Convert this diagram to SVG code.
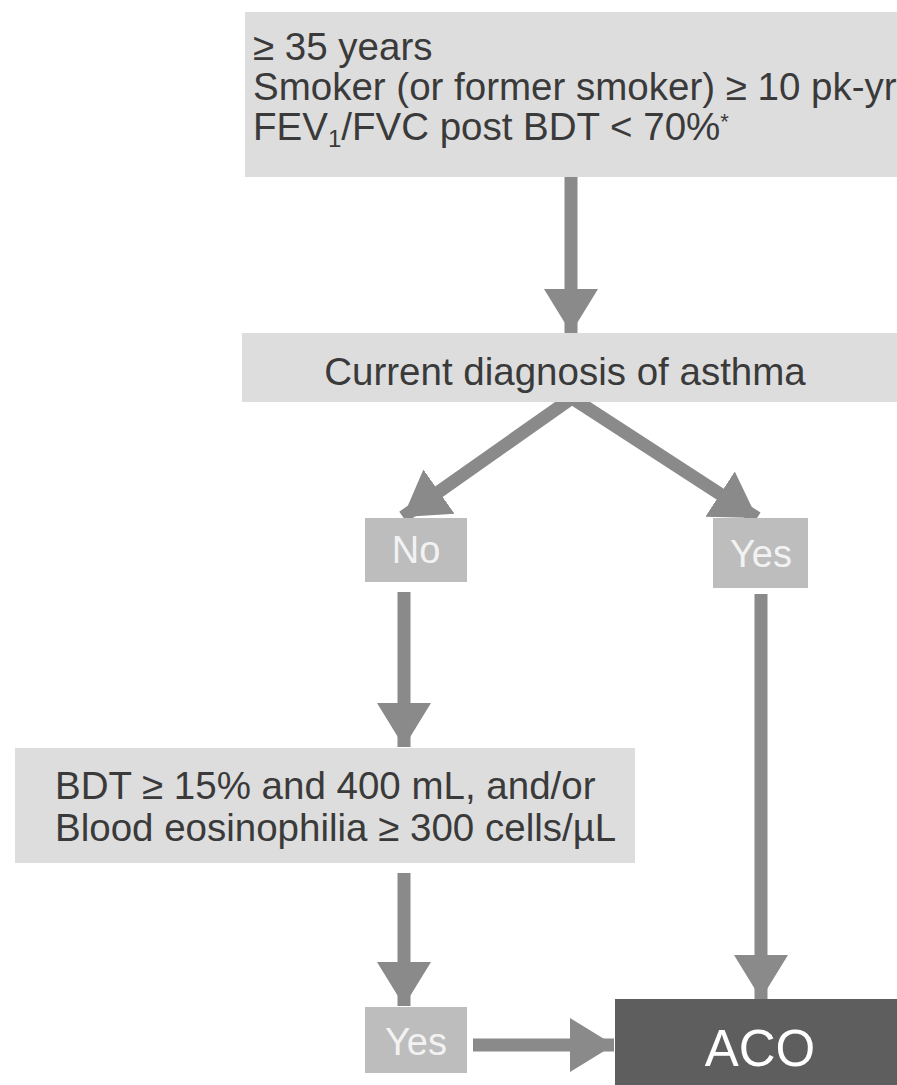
<svg xmlns="http://www.w3.org/2000/svg" width="897" height="1085" viewBox="0 0 897 1085">
  <defs>
    <style>
      .box { fill: #dddddd; }
      .tag { fill: #bdbdbd; }
      .result { fill: #5e5e5e; }
      .txt { font-family: "Liberation Sans", Arial, Helvetica, sans-serif; font-size: 38.5px; fill: #3a3a3a; }
      .tagtxt { font-family: "Liberation Sans", Arial, Helvetica, sans-serif; font-size: 38px; fill: #f2f2f2; text-anchor: middle; }
      .restxt { font-family: "Liberation Sans", Arial, Helvetica, sans-serif; font-size: 51px; fill: #ffffff; text-anchor: middle; }
      .conn { stroke: #8a8a8a; stroke-width: 13; fill: none; marker-end: url(#head); }
    </style>
    <marker id="head" markerUnits="userSpaceOnUse" markerWidth="46" markerHeight="56" refX="44" refY="28" orient="auto" viewBox="0 0 46 56">
      <path d="M0,1 L44,28 L0,55 Z" fill="#8a8a8a"/>
    </marker>
  </defs>

  <rect width="897" height="1085" fill="#ffffff"/>

  <!-- connectors -->
  <g id="connectors">
    <line class="conn" x1="571" y1="177" x2="571" y2="333"/>
    <line class="conn" x1="572" y1="398" x2="403" y2="517"/>
    <line class="conn" x1="572" y1="398" x2="757" y2="518"/>
    <line class="conn" x1="404" y1="592" x2="404" y2="747"/>
    <line class="conn" x1="761" y1="594" x2="761" y2="999"/>
    <line class="conn" x1="404" y1="873" x2="404" y2="1006"/>
    <line class="conn" x1="473" y1="1045" x2="614" y2="1045"/>
  </g>

  <!-- entry criteria -->
  <g id="criteria">
    <rect class="box" x="245" y="12" width="680" height="165"/>
    <text class="txt" x="253" y="60">≥ 35 years</text>
    <text class="txt" x="253" y="100">Smoker (or former smoker) ≥ 10 pk-yr</text>
    <text class="txt" x="253" y="140">FEV<tspan font-size="24" dy="7">1</tspan><tspan dy="-7">/FVC post BDT &lt; 70%</tspan><tspan font-size="22" dy="-11">*</tspan></text>
  </g>

  <!-- asthma question -->
  <g id="asthma">
    <rect class="box" x="242" y="333" width="680" height="69"/>
    <text class="txt" x="565" y="385" text-anchor="middle">Current diagnosis of asthma</text>
  </g>

  <g id="no">
    <rect class="tag" x="365" y="518" width="102" height="64"/>
    <text class="tagtxt" x="416" y="563">No</text>
  </g>

  <g id="yes-asthma">
    <rect class="tag" x="713" y="518" width="95" height="70"/>
    <text class="tagtxt" x="761" y="567">Yes</text>
  </g>

  <!-- bronchodilator / eosinophil criteria -->
  <g id="bdt">
    <rect class="box" x="15" y="748" width="620" height="115"/>
    <text class="txt" x="55" y="799">BDT ≥ 15% and 400 mL, and/or</text>
    <text class="txt" x="55" y="841">Blood eosinophilia ≥ 300 cells/µL</text>
  </g>

  <g id="yes-bdt">
    <rect class="tag" x="365" y="1007" width="102" height="66"/>
    <text class="tagtxt" x="416" y="1055">Yes</text>
  </g>

  <g id="aco">
    <rect class="result" x="615" y="999" width="300" height="100"/>
    <text class="restxt" x="760" y="1066">ACO</text>
  </g>
</svg>
